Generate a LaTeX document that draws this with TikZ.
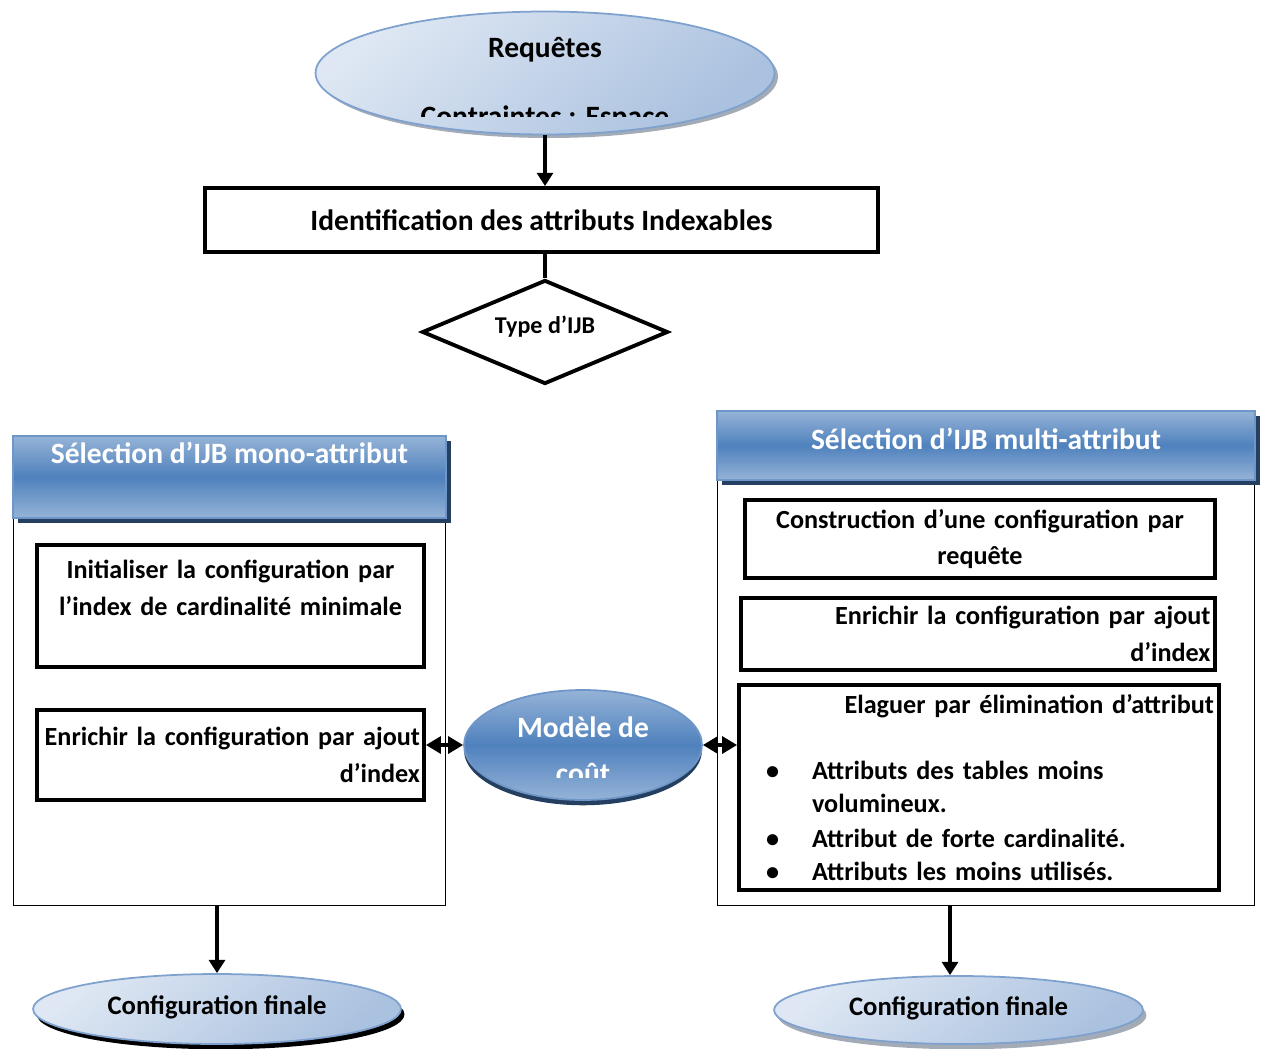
\documentclass[tikz,border=0pt]{standalone}
\usepackage{fontspec}
\setmainfont{Carlito}
\usetikzlibrary{arrows.meta,shapes,positioning,shadows}

\definecolor{softlite}{RGB}{222,231,243}
\definecolor{softdark}{RGB}{170,193,223}
\definecolor{softline}{RGB}{126,161,206}
\definecolor{hdlite}{RGB}{149,179,215}
\definecolor{hddark}{RGB}{79,129,189}
\definecolor{hdline}{RGB}{110,150,200}
\definecolor{navy}{RGB}{36,63,96}
\definecolor{shadegray}{RGB}{140,150,165}

\newcommand{\ijbfont}{\fontsize{14.9}{21}\selectfont\bfseries}
\newcommand{\ijbbig}{\fontsize{16.8}{22}\selectfont\bfseries}

\begin{document}
\begin{tikzpicture}[x=0.02cm, y=-0.02cm,
        basic/.style  = {draw, line width=2.2pt, rectangle, inner sep=0pt, font=\ijbfont},
        inbox/.style  = {basic, inner xsep=0.08cm},
        panel/.style  = {draw, line width=0.6pt, rectangle, inner sep=0pt},
        soft/.style   = {ellipse, draw=softline, line width=1pt, inner sep=0pt, top color=softlite, bottom color=softdark, shading angle=40, font=\fontsize{15.2}{20}\selectfont\bfseries},
        header/.style = {rectangle, draw=hdline, line width=1pt, inner sep=0pt, top color=hdlite, bottom color=hdlite, middle color=hddark, drop shadow={shadow xshift=3pt, shadow yshift=-3pt, fill=navy, opacity=1}},
        htext/.style  = {text=white, font=\ijbbig, anchor=base},
        txt/.style    = {inner sep=0pt, font=\ijbbig, anchor=base},
        arr/.style    = {->, line width=2.3pt},
        dbl/.style    = {{Triangle[length=8.5pt,width=9.5pt]}-{Triangle[length=8.5pt,width=9.5pt]}, line width=2.6pt},
        >={Triangle[length=7.5pt,width=9pt]}]

        \useasboundingbox (0,0) rectangle (1263,1048);

        % input ellipse
        \node[soft, minimum width=9.18cm, minimum height=2.46cm, drop shadow={shadow xshift=2pt, shadow yshift=-2pt, fill=shadegray, opacity=.8}] (rq) at (545,73) {};
        \node[txt] (rqa) at (545,57) {Requêtes};
        \begin{scope}
            \clip (300,0) rectangle (800,116);
            \node[txt] (rqb) at (545,126) {Contraintes : Espace};
        \end{scope}

        % first step and choice
        \node[basic, minimum width=13.46cm, minimum height=1.28cm, font=\ijbbig] (ident) at (541.5,220) {Identification des attributs Indexables};
        \node[basic, diamond, aspect=2.37, minimum width=4.92cm, minimum height=2.08cm, font=\fontsize{13.7}{15}\selectfont\bfseries] (type) at (545,332) {\raisebox{8pt}{Type d’IJB}};

        % the two panels
        \node[panel, minimum width=8.66cm, minimum height=9.4cm] (lp) at (229.5,671) {};
        \node[panel, minimum width=10.76cm, minimum height=9.9cm] (rp) at (986,658.5) {};

        \node[header, minimum width=8.66cm, minimum height=1.64cm] (lh) at (229.5,477) {};
        \node[htext] at (229.5,463) {Sélection d’IJB mono-attribut};
        \node[header, minimum width=10.76cm, minimum height=1.38cm] (rh) at (986,445.5) {};
        \node[htext] at (986,449) {Sélection d’IJB multi-attribut};

        % mono-attribute steps
        \node[inbox, minimum width=7.74cm, minimum height=2.44cm, text width=7.58cm, align=center] (la) at (230.5,606)
            {Initialiser la configuration par\\l’index de cardinalité minimale\\\mbox{}};
        \node[inbox, minimum width=7.74cm, minimum height=1.8cm, text width=7.58cm, align=right] (lb) at (230.5,755)
            {Enrichir la configuration par ajout\\d’index};

        % multi-attribute steps
        \node[inbox, minimum width=9.4cm, minimum height=1.56cm, text width=9.2cm, align=center] (ra) at (980,539)
            {Construction d’une configuration par\\requête};
        \node[inbox, minimum width=9.48cm, minimum height=1.44cm, text width=9.3cm, align=right] (rb) at (978,634)
            {Enrichir la configuration par ajout\\d’index};
        \node[inbox, minimum width=9.6cm, minimum height=4.1cm, text width=9.4cm, align=left,
              font=\fontsize{14.9}{18.8}\selectfont\bfseries] (rc) at (979,787.5)
            {\mbox{}\hfill Elaguer par élimination d’attribut\\[0.66cm]
             \hspace*{0.44cm}\makebox[0.92cm][l]{\textbullet}Attributs des tables moins\\
             \hspace*{1.36cm}volumineux.\\[1.5pt]
             \hspace*{0.44cm}\makebox[0.92cm][l]{\textbullet}Attribut de forte cardinalité.\\
             \hspace*{0.44cm}\makebox[0.92cm][l]{\textbullet}Attributs les moins utilisés.};

        % cost model
        \node[ellipse, draw=hdline, line width=1pt, top color=hdlite, bottom color=hdlite, middle color=hddark,
              drop shadow={shadow xshift=0pt, shadow yshift=-3pt, fill=navy, opacity=1},
              minimum width=4.76cm, minimum height=2.2cm] (cm) at (583,745) {};
        \node[htext] (cma) at (583,737) {Modèle de};
        \begin{scope}
            \clip (450,700) rectangle (720,777);
            \node[htext] (cmb) at (583,783) {coût};
        \end{scope}

        % final configurations
        \node[soft, minimum width=7.36cm, minimum height=1.4cm, drop shadow={shadow xshift=2pt, shadow yshift=-3pt, fill=black, opacity=1}] (lf) at (217,1009) {\raisebox{5pt}{Configuration finale}};
        \node[soft, minimum width=7.38cm, minimum height=1.36cm, drop shadow={shadow xshift=2pt, shadow yshift=-3pt, fill=shadegray, opacity=.8}] (rf) at (958.5,1010) {\raisebox{5pt}{Configuration finale}};

        % connectors
        \draw[arr] (rq.south) -- (rq.south |- ident.north);
        \draw[line width=2.3pt] (ident.south -| type.north) -- (type.north);
        \draw[dbl] (lb.east |- cm.west) -- (cm.west);
        \draw[dbl] (cm.east) -- (cm.east -| rc.west);
        \draw[arr] (lf.north |- lp.south) -- (lf.north);
        \draw[arr] ([xshift=-0.17cm]rf.north |- rp.south) -- ([xshift=-0.17cm]rf.north);

    \end{tikzpicture}
\end{document}
